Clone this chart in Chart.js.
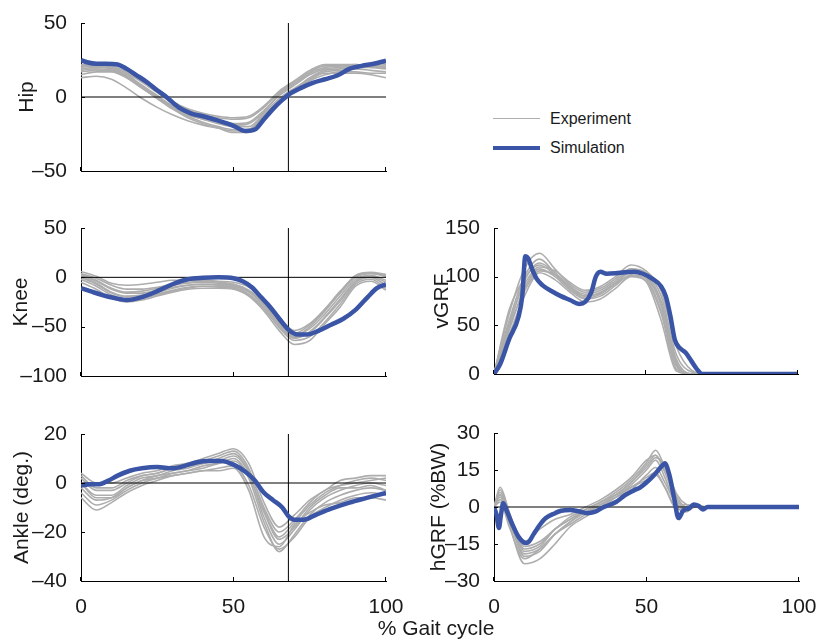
<!DOCTYPE html>
<html>
<head>
<meta charset="utf-8">
<script src="https://cdn.jsdelivr.net/npm/chart.js@4.4.1/dist/chart.umd.min.js"></script>
<style>
  body { margin: 0; background: #fff; width: 821px; height: 640px; position: relative; overflow: hidden;
         font-family: "Liberation Sans", Arial, sans-serif; color: #1a1a1a; }
  canvas { position: absolute; }
  .legend { position: absolute; left: 493px; top: 104px; font-size: 16px; }
  .legend .row { height: 29px; display: flex; align-items: center; }
  .legend .swatch { width: 47px; margin-right: 10px; }
  .xlabel { position: absolute; left: 336px; width: 200px; top: 616px; text-align: center; font-size: 21px; }
</style>
</head>
<body>
<canvas id="hip" width="400" height="190" style="left:0;top:0"></canvas>
<canvas id="knee" width="400" height="190" style="left:0;top:205px"></canvas>
<canvas id="ankle" width="410" height="210" style="left:0;top:411px"></canvas>
<canvas id="vgrf" width="405" height="190" style="left:413px;top:205px"></canvas>
<canvas id="hgrf" width="408" height="210" style="left:413px;top:411px"></canvas>

<div class="legend">
  <div class="row"><div class="swatch" style="border-top:1.6px solid #adadad"></div>Experiment</div>
  <div class="row"><div class="swatch" style="border-top:4.5px solid #3a54a6"></div>Simulation</div>
</div>
<div class="xlabel">% Gait cycle</div>

<script>
// ---- data ----
const gaitPct = [0, 5, 10, 15, 20, 25, 30, 35, 40, 45, 50, 55, 60, 65, 70, 75, 80, 85, 90, 95, 100];
const toeOff = 68;

const hipTrials = [
    [22, 22, 21, 17, 11, 4, -3, -8, -11, -13, -14, -13, -6, 4, 11, 18, 22, 22, 22, 21, 20],
    [20, 21, 20, 16, 10, 3, -4, -9, -12, -14, -15, -14, -7, 3, 10, 17, 21, 21, 21, 20, 19],
    [19, 20, 19, 15, 8, 1, -6, -11, -14, -16, -18, -17, -9, 1, 8, 15, 19, 20, 21, 22, 23],
    [17, 18, 18, 14, 7, 0, -7, -12, -15, -18, -20, -20, -11, -1, 6, 12, 17, 18, 19, 18, 17],
    [15, 17, 17, 13, 6, -1, -8, -13, -17, -20, -22, -22, -13, -3, 4, 11, 15, 17, 17, 16, 16],
    [13, 14, 12, 6, -1, -7, -12, -16, -19, -21, -23, -22, -12, -3, 5, 12, 16, 16, 16, 15, 13],
    [18, 19, 18, 13, 6, -1, -8, -14, -18, -21, -24, -24, -14, -4, 5, 13, 18, 19, 20, 20, 21],
    [21, 21, 19, 14, 7, 0, -7, -12, -15, -17, -19, -18, -10, 2, 9, 16, 20, 21, 22, 21, 22]
];
const hipSimPct = [0, 2, 5, 8, 12, 15, 18, 22, 25, 28, 32, 36, 40, 45, 50, 54, 57, 60, 63, 66, 68, 72, 76, 80, 84, 88, 92, 96, 100];
const hipSim = [25, 23.5, 22.5, 22.5, 22, 19, 15, 9.5, 4.5, 0, -7, -11, -13, -16, -19.5, -23, -22, -15, -8, -2, 1.5, 6, 9.5, 12, 14.5, 19, 21, 22.5, 24.5];

const kneeTrials = [
    [6, 1, -6, -8, -7, -5, -3, -3, -3, -4, -5, -10, -22, -40, -54, -47, -32, -14, 1, 4, 2],
    [3, -3, -11, -15, -14, -11, -8, -6, -5, -6, -7, -13, -26, -45, -58, -52, -37, -19, -2, 2, -3],
    [1, -6, -15, -19, -18, -15, -11, -8, -7, -8, -9, -15, -29, -48, -61, -56, -41, -24, -5, 0, -8],
    [-2, -9, -18, -22, -21, -18, -14, -11, -9, -9, -10, -17, -31, -51, -64, -60, -45, -27, -7, -2, -11],
    [-5, -12, -21, -25, -23, -19, -15, -12, -11, -11, -12, -19, -34, -54, -68, -64, -47, -30, -9, -4, -13],
    [4, -1, -8, -12, -12, -10, -7, -5, -4, -5, -7, -14, -28, -47, -60, -50, -34, -15, 2, 5, 3],
    [2, -4, -12, -16, -16, -13, -10, -8, -7, -7, -8, -14, -27, -45, -57, -48, -33, -16, 0, 4, 1],
    [0, -7, -16, -20, -20, -17, -13, -10, -9, -10, -11, -18, -32, -50, -62, -55, -40, -22, -4, 1, -5]
];
const kneeSimPct = [0, 3, 7, 11, 15, 20, 25, 30, 35, 40, 45, 50, 53, 56, 59, 62, 65, 68, 71, 74, 78, 82, 86, 90, 94, 97, 100];
const kneeSim = [-11, -14, -18, -21, -23, -20, -14, -7, -2, -0.5, 0, -1, -4, -10, -20, -30, -42, -53, -58, -58, -54, -48, -42, -33, -20, -11, -7];

const ankleTrials = [
    [4, 0, 0, 2, 4, 5, 7, 8, 10, 12, 14, 8, -8, -18, -13, -7, -3, 1, 2, 3, 3],
    [2, -3, -3, 0, 3, 4, 6, 7, 9, 11, 13, 6, -11, -22, -16, -9, -4, -1, 1, 2, 1],
    [0, -5, -5, -1, 2, 3, 5, 6, 8, 9, 11, 4, -14, -25, -19, -11, -6, -3, -1, 0, -1],
    [-2, -7, -6, -2, 1, 2, 4, 5, 6, 8, 9, 2, -16, -28, -21, -13, -8, -5, -3, -2, -3],
    [-4, -9, -7, -3, 0, 2, 3, 4, 5, 6, 7, -1, -18, -27, -22, -14, -10, -7, -5, -4, -5],
    [-6, -11, -8, -4, -1, 1, 3, 4, 5, 5, 6, -3, -22, -26, -17, -12, -9, -8, -6, -6, -7],
    [3, -2, -2, 1, 3, 4, 6, 7, 8, 10, 12, 5, -10, -20, -15, -8, -3, -1, 0, 1, 2],
    [0, -6, -6, -2, 1, 3, 4, 5, 7, 8, 10, 3, -12, -23, -18, -10, -5, -2, -2, -1, -3]
];
const ankleSimPct = [0, 3, 6, 9, 12, 16, 20, 25, 30, 34, 38, 42, 46, 50, 54, 57, 60, 63, 66, 68, 70, 73, 77, 82, 88, 94, 100];
const ankleSim = [-1, -0.5, -0.5, 1, 3, 5, 6, 6.5, 6, 7, 8.5, 9, 9, 7.5, 4.5, 1, -4, -7, -10, -13.5, -15, -15, -13, -10.5, -8, -6, -4];

const vgrfPct = [0, 5, 10, 15, 20, 25, 30, 35, 40, 45, 50, 55, 60, 65, 70, 100];
const vgrfTrials = [
    [0, 62, 108, 124, 108, 92, 84, 88, 98, 108, 104, 80, 20, 2, 0, 0],
    [0, 55, 100, 118, 104, 90, 82, 86, 96, 106, 102, 75, 15, 0, 0, 0],
    [0, 50, 96, 112, 102, 88, 80, 84, 94, 104, 100, 70, 10, 0, 0, 0],
    [0, 45, 88, 108, 100, 86, 77, 80, 91, 102, 98, 65, 8, 0, 0, 0],
    [0, 40, 80, 104, 97, 84, 74, 77, 88, 100, 96, 62, 5, 0, 0, 0],
    [0, 66, 98, 114, 104, 90, 80, 83, 93, 101, 95, 55, 3, 0, 0, 0],
    [0, 52, 92, 110, 106, 94, 86, 90, 100, 112, 106, 85, 28, 4, 0, 0],
    [0, 48, 85, 106, 102, 88, 78, 82, 93, 105, 100, 72, 12, 0, 0, 0]
];
const vgrfSimPct = [0, 2, 5, 8, 9.3, 10.3, 11.2, 12.5, 14, 16, 19, 22, 25, 28, 30, 32, 33.5, 35, 37, 40, 43, 46, 49, 52, 55, 56.5, 58, 59.5, 61, 63, 65, 67, 68.5, 100];
const vgrfSim = [0, 10, 36, 58, 80, 121, 119, 108, 98, 91, 85, 80, 76, 72, 74, 84, 100, 105, 103, 103.5, 104.5, 105, 103, 98, 90, 80, 60, 35, 27, 22, 13, 4, 0, 0];

const hgrfPct = [0, 2, 5, 10, 15, 20, 25, 30, 35, 40, 45, 50, 53, 56, 60, 63, 66, 70, 100];
const hgrfTrials = [
    [0, 8, -2, -18, -16, -9, -5, -1, 2, 6, 11, 18, 23, 16, 3, 0, 0, 0, 0],
    [0, 6, -4, -20, -18, -11, -6, -2, 2, 5, 10, 17, 21, 14, 2, -1, 0, 0, 0],
    [0, 5, -7, -23, -21, -15, -8, -4, 0, 4, 9, 15, 19, 12, 0, -2, 0, 0, 0],
    [0, 2, -8, -21, -17, -11, -6, -2, 1, 4, 8, 12, 14, 8, -1, 0, 1, 0, 0],
    [0, 4, -5, -17, -15, -9, -4, -1, 2, 5, 8, 11, 13, 8, 0, 1, 0, 0, 0],
    [0, 7, -3, -14, -9, -5, -3, 0, 3, 7, 12, 19, 21, 15, 4, 0, 0, 0, 0],
    [0, 3, -6, -19, -17, -11, -7, -3, 1, 5, 10, 16, 20, 17, 5, 1, 0, 0, 0],
    [0, 5, -5, -16, -14, -9, -5, -2, 1, 4, 7, 13, 16, 10, 1, 0, 0, 0, 0]
];
const hgrfSimPct = [0, 0.8, 1.6, 2.3, 3, 4, 6, 8, 10.5, 11.5, 13, 15, 17, 20, 22, 25, 28, 30.5, 33, 36, 40, 43, 46, 48, 52, 55, 56, 57.5, 59, 60.5, 62, 64, 65.5, 67, 68.5, 70, 100];
const hgrfSim = [0, -3, -8.5, -3, 1.5, -1, -7, -12, -14.6, -14, -11, -7.3, -4.5, -2.5, -1.5, -1.2, -1.8, -2.5, -2, 0, 2, 4.8, 6.8, 8, 12.3, 16.6, 17.7, 13, 4, -4.5, -1.5, -0.5, 1, 0.5, -1, 0, 0];

// ---- styling ----
const GRAY = '#adadad';
const BLUE = '#3a54a6';
const FONT = { family: '"Liberation Sans", Arial, sans-serif', size: 21 };
const TEXT = '#1a1a1a';

const toPoints = (xs, ys) => ys.map((v, i) => ({ x: xs[i], y: v }));
const fmtTick = v => (v < 0 ? '\u2013' + (-v) : String(v));

// small inward tick marks, matlab style
const inwardTicks = {
    id: 'inwardTicks',
    afterDraw(chart) {
        const { ctx, chartArea: a, scales: { x, y } } = chart;
        ctx.save();
        ctx.strokeStyle = '#000';
        ctx.lineWidth = 1;
        ctx.beginPath();
        x.ticks.forEach(t => {
            const px = Math.round(x.getPixelForValue(t.value)) - 0.5;
            ctx.moveTo(px, a.bottom);
            ctx.lineTo(px, a.bottom - 4);
        });
        y.ticks.forEach(t => {
            const py = Math.round(y.getPixelForValue(t.value)) + 0.5;
            ctx.moveTo(a.left, py);
            ctx.lineTo(a.left + 4, py);
        });
        ctx.stroke();
        ctx.restore();
    }
};

function buildPanel(id, p) {
    const datasets = p.trials.map(t => ({
        data: toPoints(p.trialPct, t),
        borderColor: GRAY, borderWidth: 1.6, pointRadius: 0,
        cubicInterpolationMode: 'monotone', order: 3
    }));
    if (p.zeroLine) {
        datasets.push({ data: [{ x: 0, y: 0 }, { x: 100, y: 0 }],
            borderColor: '#000', borderWidth: 1, pointRadius: 0, order: 2 });
    }
    if (p.toeOffLine) {
        datasets.push({ data: [{ x: toeOff, y: p.yMin }, { x: toeOff, y: p.yMax }],
            borderColor: '#000', borderWidth: 1, pointRadius: 0, order: 2 });
    }
    datasets.push({
        data: toPoints(p.simPct, p.sim),
        borderColor: BLUE, borderWidth: 4.5, pointRadius: 0,
        cubicInterpolationMode: 'monotone', order: 1
    });

    new Chart(document.getElementById(id), {
        type: 'line',
        data: { datasets },
        plugins: [inwardTicks],
        options: {
            responsive: false,
            animation: false,
            devicePixelRatio: 1,
            layout: { padding: { top: p.padTop, right: p.padRight, left: 0, bottom: 0 } },
            plugins: { legend: { display: false }, tooltip: { enabled: false } },
            scales: {
                x: {
                    type: 'linear', min: 0, max: 100,
                    grid: { display: false },
                    border: { display: true, color: '#000', width: 1 },
                    ticks: { stepSize: 50, display: p.showX, padding: 6, font: FONT, color: TEXT,
                             maxRotation: 0, autoSkip: false },
                    afterFit: s => { s.height = p.xHeight; s.paddingLeft = 0; s.paddingRight = 0; }
                },
                y: {
                    min: p.yMin, max: p.yMax,
                    grid: { display: false },
                    border: { display: true, color: '#000', width: 1 },
                    ticks: { stepSize: p.yStep, padding: 6, font: FONT, color: TEXT,
                             autoSkip: false, callback: fmtTick },
                    title: { display: true, text: p.title, font: FONT, color: TEXT,
                             padding: { top: p.titlePad, bottom: 0 } },
                    afterFit: s => { s.width = 81; s.paddingTop = 0; s.paddingBottom = 0; }
                }
            }
        }
    });
}

buildPanel('hip', {
    title: 'Hip', trials: hipTrials, trialPct: gaitPct, simPct: hipSimPct, sim: hipSim,
    yMin: -50, yMax: 50, yStep: 50, zeroLine: true, toeOffLine: true,
    showX: false, xHeight: 19, padTop: 23, padRight: 14, titlePad: 15
});
buildPanel('knee', {
    title: 'Knee', trials: kneeTrials, trialPct: gaitPct, simPct: kneeSimPct, sim: kneeSim,
    yMin: -100, yMax: 50, yStep: 50, zeroLine: true, toeOffLine: true,
    showX: false, xHeight: 19, padTop: 23, padRight: 14, titlePad: 9
});
buildPanel('ankle', {
    title: 'Ankle (deg.)', trials: ankleTrials, trialPct: gaitPct, simPct: ankleSimPct, sim: ankleSim,
    yMin: -40, yMax: 20, yStep: 20, zeroLine: true, toeOffLine: true,
    showX: true, xHeight: 40, padTop: 23, padRight: 24, titlePad: 10
});
buildPanel('vgrf', {
    title: 'vGRF', trials: vgrfTrials, trialPct: vgrfPct, simPct: vgrfSimPct, sim: vgrfSim,
    yMin: 0, yMax: 150, yStep: 50, zeroLine: false, toeOffLine: false,
    showX: false, xHeight: 21, padTop: 23, padRight: 20, titlePad: 17
});
buildPanel('hgrf', {
    title: 'hGRF (%BW)', trials: hgrfTrials, trialPct: hgrfPct, simPct: hgrfSimPct, sim: hgrfSim,
    yMin: -30, yMax: 30, yStep: 15, zeroLine: true, toeOffLine: false,
    showX: true, xHeight: 40, padTop: 22, padRight: 22, titlePad: 14
});
</script>
</body>
</html>
